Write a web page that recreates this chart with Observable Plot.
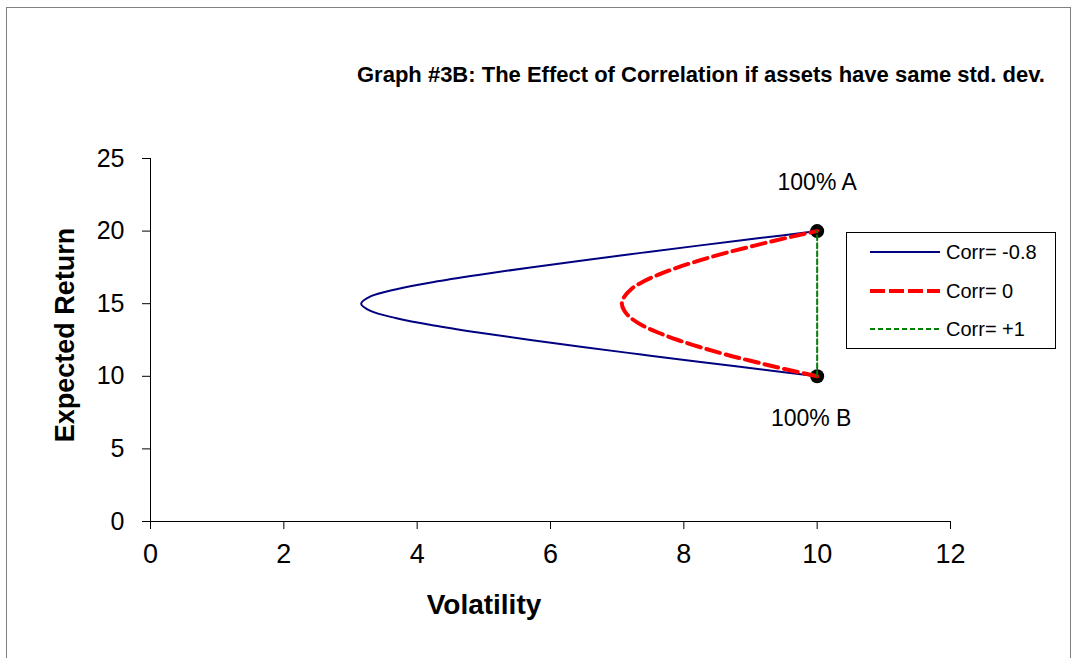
<!DOCTYPE html>
<html>
<head>
<meta charset="utf-8">
<script src="https://cdn.jsdelivr.net/npm/d3@7"></script>
<script src="https://cdn.jsdelivr.net/npm/@observablehq/plot@0.6"></script>
<style>
  html, body { margin: 0; padding: 0; background: #fff; overflow: hidden; }
  #wrap { position: relative; width: 1078px; height: 658px; font-family: Arial, "Liberation Sans", sans-serif; }
  #border { position: absolute; left: 6px; top: 7px; width: 1065px; height: 700px; border: 1px solid #808080; box-sizing: border-box; }
  #title { position: absolute; left: 357px; top: 62px; font-weight: bold; font-size: 22px; white-space: nowrap; color: #000; }
  #ylab { position: absolute; left: 65px; top: 335px; transform: translate(-50%, -50%) rotate(-90deg); font-weight: bold; font-size: 27px; white-space: nowrap; }
  #xlab { position: absolute; left: 484px; top: 605px; transform: translate(-50%, -50%); font-weight: bold; font-size: 28px; white-space: nowrap; }
  #legend { position: absolute; left: 846px; top: 232px; }
  #chart { position: absolute; left: 0; top: 0; }
</style>
</head>
<body>
<div id="wrap">
  <div id="border"></div>
  <div id="chart"></div>
  <div id="title"></div>
  <div id="ylab"></div>
  <div id="xlab"></div>
  <div id="legend"></div>
</div>
<script>
// ---- data ----
const returns = [10, 10.5, 11, 11.5, 12, 12.5, 13, 13.5, 14, 14.5, 15, 15.5, 16, 16.5, 17, 17.5, 18, 18.5, 19, 19.5, 20];
const volCorrNeg08 = [10, 9.11, 8.22, 7.36, 6.51, 5.70, 4.94, 4.25, 3.69, 3.30, 3.16, 3.30, 3.69, 4.25, 4.94, 5.70, 6.51, 7.36, 8.22, 9.11, 10];
const volCorr0 = [10, 9.51, 9.06, 8.63, 8.25, 7.91, 7.62, 7.38, 7.21, 7.11, 7.07, 7.11, 7.21, 7.38, 7.62, 7.91, 8.25, 8.63, 9.06, 9.51, 10];
const returnsCorrPos1 = [10, 20];
const volCorrPos1 = [10, 10];

const seriesNames = ["Corr= -0.8", "Corr= 0", "Corr= +1"];
const seriesColors = ["#000080", "#FF0000", "#008000"];
const seriesWidths = [2, 4, 2];
const seriesDash = [null, "14,6", "5,3"];
const legendDash = [null, "15,4", "5,3"];

const assetLabels = ["100% A", "100% B"];
const assetVol = [10, 10];
const assetReturn = [20, 10];

const xTicks = [0, 2, 4, 6, 8, 10, 12];
const yTicks = [0, 5, 10, 15, 20, 25];

const titleText = "Graph #3B: The Effect of Correlation if assets have same std. dev.";
const xLabel = "Volatility";
const yLabel = "Expected Return";

// ---- build tables ----
const lineNeg = returns.map((r, i) => ({vol: volCorrNeg08[i], ret: r}));
const line0 = returns.map((r, i) => ({vol: volCorr0[i], ret: r}));
const linePos = returnsCorrPos1.map((r, i) => ({vol: volCorrPos1[i], ret: r}));
const assets = assetLabels.map((t, i) => ({label: t, vol: assetVol[i], ret: assetReturn[i]}));

const chart = Plot.plot({
  width: 1078,
  height: 658,
  marginLeft: 150,
  marginRight: 128,
  marginTop: 158,
  marginBottom: 137,
  x: {domain: [0, 12]},
  y: {domain: [0, 25]},
  style: {fontFamily: "Arial, 'Liberation Sans', sans-serif", color: "#000", background: "transparent", overflow: "visible"},
  marks: [
    Plot.axisX({ticks: xTicks, tickSize: 8, tickPadding: 14, label: null, fontSize: 27, strokeOpacity: 1}),
    Plot.axisY({ticks: yTicks, tickSize: 8, tickPadding: 18, label: null, fontSize: 25, strokeOpacity: 1}),
    Plot.ruleY([0], {stroke: "#000"}),
    Plot.ruleX([0], {stroke: "#000"}),
    Plot.dot(assets, {x: "vol", y: "ret", r: 7, fill: "#000"}),
    Plot.line(lineNeg, {x: "vol", y: "ret", stroke: seriesColors[0], strokeWidth: seriesWidths[0], curve: "catmull-rom"}),
    Plot.line(line0, {x: "vol", y: "ret", stroke: seriesColors[1], strokeWidth: seriesWidths[1], strokeDasharray: seriesDash[1], curve: "catmull-rom"}),
    Plot.line(linePos, {x: "vol", y: "ret", stroke: seriesColors[2], strokeWidth: seriesWidths[2], strokeDasharray: seriesDash[2]}),
    Plot.text(assets.filter(d => d.label === "100% A"), {x: "vol", y: "ret", text: "label", dy: -48, fontSize: 23}),
    Plot.text(assets.filter(d => d.label === "100% B"), {x: "vol", y: "ret", text: "label", dy: 42, dx: -6, fontSize: 23})
  ]
});
document.getElementById("chart").appendChild(chart);

document.getElementById("title").textContent = titleText;
document.getElementById("xlab").textContent = xLabel;
document.getElementById("ylab").textContent = yLabel;

// legend
const lg = d3.select("#legend").append("svg").attr("width", 212).attr("height", 118)
  .style("font-family", "Arial, 'Liberation Sans', sans-serif");
lg.append("rect").attr("x", 0.5).attr("y", 0.5).attr("width", 209).attr("height", 116)
  .attr("fill", "#fff").attr("stroke", "#000");
const rowY = [20, 59, 97];
seriesNames.forEach((name, i) => {
  lg.append("line").attr("x1", 24).attr("x2", 94).attr("y1", rowY[i]).attr("y2", rowY[i])
    .attr("stroke", seriesColors[i]).attr("stroke-width", seriesWidths[i])
    .attr("stroke-dasharray", legendDash[i]);
  lg.append("text").attr("x", 100).attr("y", rowY[i]).attr("dy", "0.35em")
    .attr("font-size", 20).text(name);
});
</script>
</body>
</html>
